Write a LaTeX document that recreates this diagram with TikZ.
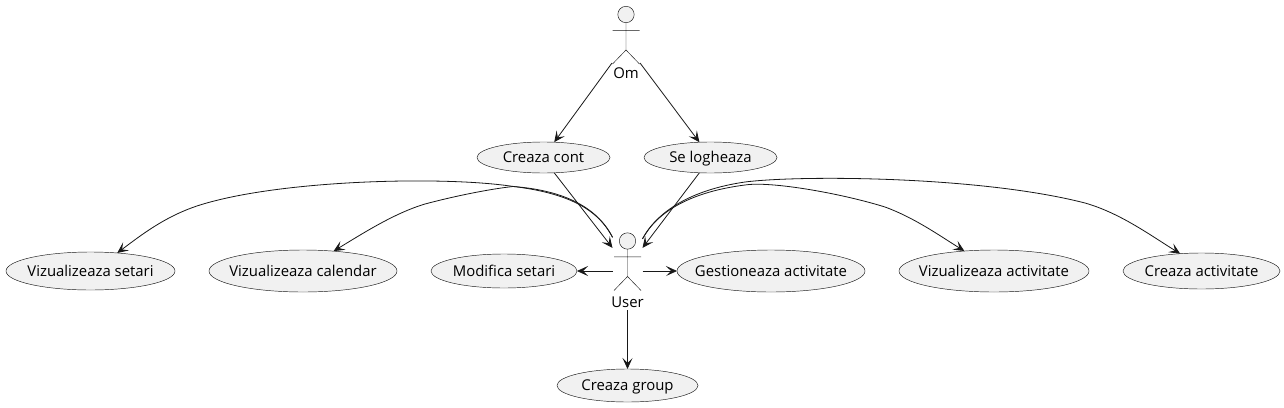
\documentclass[tikz,border=0pt]{standalone}
\usepackage{fontspec}
\setmainfont{Open Sans}
\usetikzlibrary{shapes.geometric,arrows.meta}
\definecolor{ink}{HTML}{181818}
\definecolor{usefill}{HTML}{F1F1F1}
\newcommand{\uctext}[1]{\makebox[0pt][c]{\rule{0pt}{13.8pt}\vphantom{g}#1}}
\tikzset{
  usecase/.style={ellipse,draw=ink,line width=0.45pt,fill=usefill,inner sep=0pt,outer sep=0pt,text=black,font=\fontsize{14.9}{17}\selectfont},
  actorbox/.style={rectangle,inner sep=0pt,outer sep=0pt,minimum width=30pt},
  actorlabel/.style={inner sep=0pt,text=black,font=\fontsize{14.9}{17}\selectfont},
  stick/.style={draw=ink,line width=0.45pt},
  link/.style={draw=ink,line width=0.8pt,-{Stealth[length=11pt,width=10pt,inset=5pt]}}
}
\newcommand{\stickfig}[1]{%
  \begin{scope}[shift={(#1)}]
    \draw[stick,fill=usefill] (0,0) circle (8.2pt);
    \draw[stick] (0,8.2) -- (0,35.5) (-13.5,15.8) -- (13.5,15.8) (-13.5,49.5) -- (0,35.5) -- (13.5,49.5);
  \end{scope}}
\begin{document}
\begin{tikzpicture}[x=1pt,y=-1pt]
\useasboundingbox[fill=white] (0,0) rectangle (1284,407);
% actors
\stickfig{626,14.5}
\stickfig{627.5,241}
\node[actorbox,minimum width=28pt,minimum height=57pt] (om) at (626,34.5) {};
\node[actorbox,minimum height=78pt] (user) at (627.5,271) {};
\node[actorlabel] (omlabel) at (626,73.5) {Om};
\node[actorlabel] (userlabel) at (627.5,302) {User};
% use cases
\node[usecase,minimum width=133pt,minimum height=31pt] (cont) at (543.5,157.5) {\uctext{Creaza cont}};
\node[usecase,minimum width=133pt,minimum height=31pt] (log) at (710.5,157.5) {\uctext{Se logheaza}};
\node[usecase,minimum width=169pt,minimum height=38pt] (vset) at (90.5,271) {\uctext{Vizualizeaza setari}};
\node[usecase,minimum width=188pt,minimum height=42pt] (vcal) at (303,271) {\uctext{Vizualizeaza calendar}};
\node[usecase,minimum width=146pt,minimum height=34pt] (mset) at (504,271) {\uctext{Modifica setari}};
\node[usecase,minimum width=188pt,minimum height=42pt] (gact) at (771,271) {\uctext{Gestioneaza activitate}};
\node[usecase,minimum width=190pt,minimum height=42pt] (vact) at (994,271) {\uctext{Vizualizeaza activitate}};
\node[usecase,minimum width=157pt,minimum height=36pt] (cact) at (1201.5,271) {\uctext{Creaza activitate}};
\node[usecase,minimum width=141pt,minimum height=33pt] (cgrp) at (627.5,385.5) {\uctext{Creaza group}};
% connectors
\draw[link] (om.south west) -- (cont.55);
\draw[link] (om.south east) -- (log.126);
\draw[link] (cont.-55) -- (user.123);
\draw[link] (log.234) -- (user.57);
\draw[link] (user.west) -- (mset.east);
\draw[link] (user.east) -- (gact.west);
\draw[link] (user.south) -- (cgrp.north);
\draw[link] (user.114.4) .. controls (596,205) and (560,192) .. (510,186)
  .. controls (440,176) and (280,180) .. (200,205)
  .. controls (165,216) and (140,236) .. (vset.34.2);
\draw[link] (user.114.4) .. controls (596,205) and (560,190) .. (513,186.5)
  .. controls (490,189) and (455,196) .. (425,204)
  .. controls (395,213) and (365,232) .. (vcal.33.6);
\draw[link] (user.65.6) .. controls (657,212) and (690,190) .. (745,182)
  .. controls (800,175) and (980,176) .. (1085,203)
  .. controls (1120,213) and (1150,235) .. (cact.141.2);
\draw[link] (user.65.6) .. controls (657,212) and (690,192) .. (745,185)
  .. controls (770,181) and (840,193) .. (885,207)
  .. controls (915,218) and (940,236) .. (vact.146.4);
\end{tikzpicture}
\end{document}
